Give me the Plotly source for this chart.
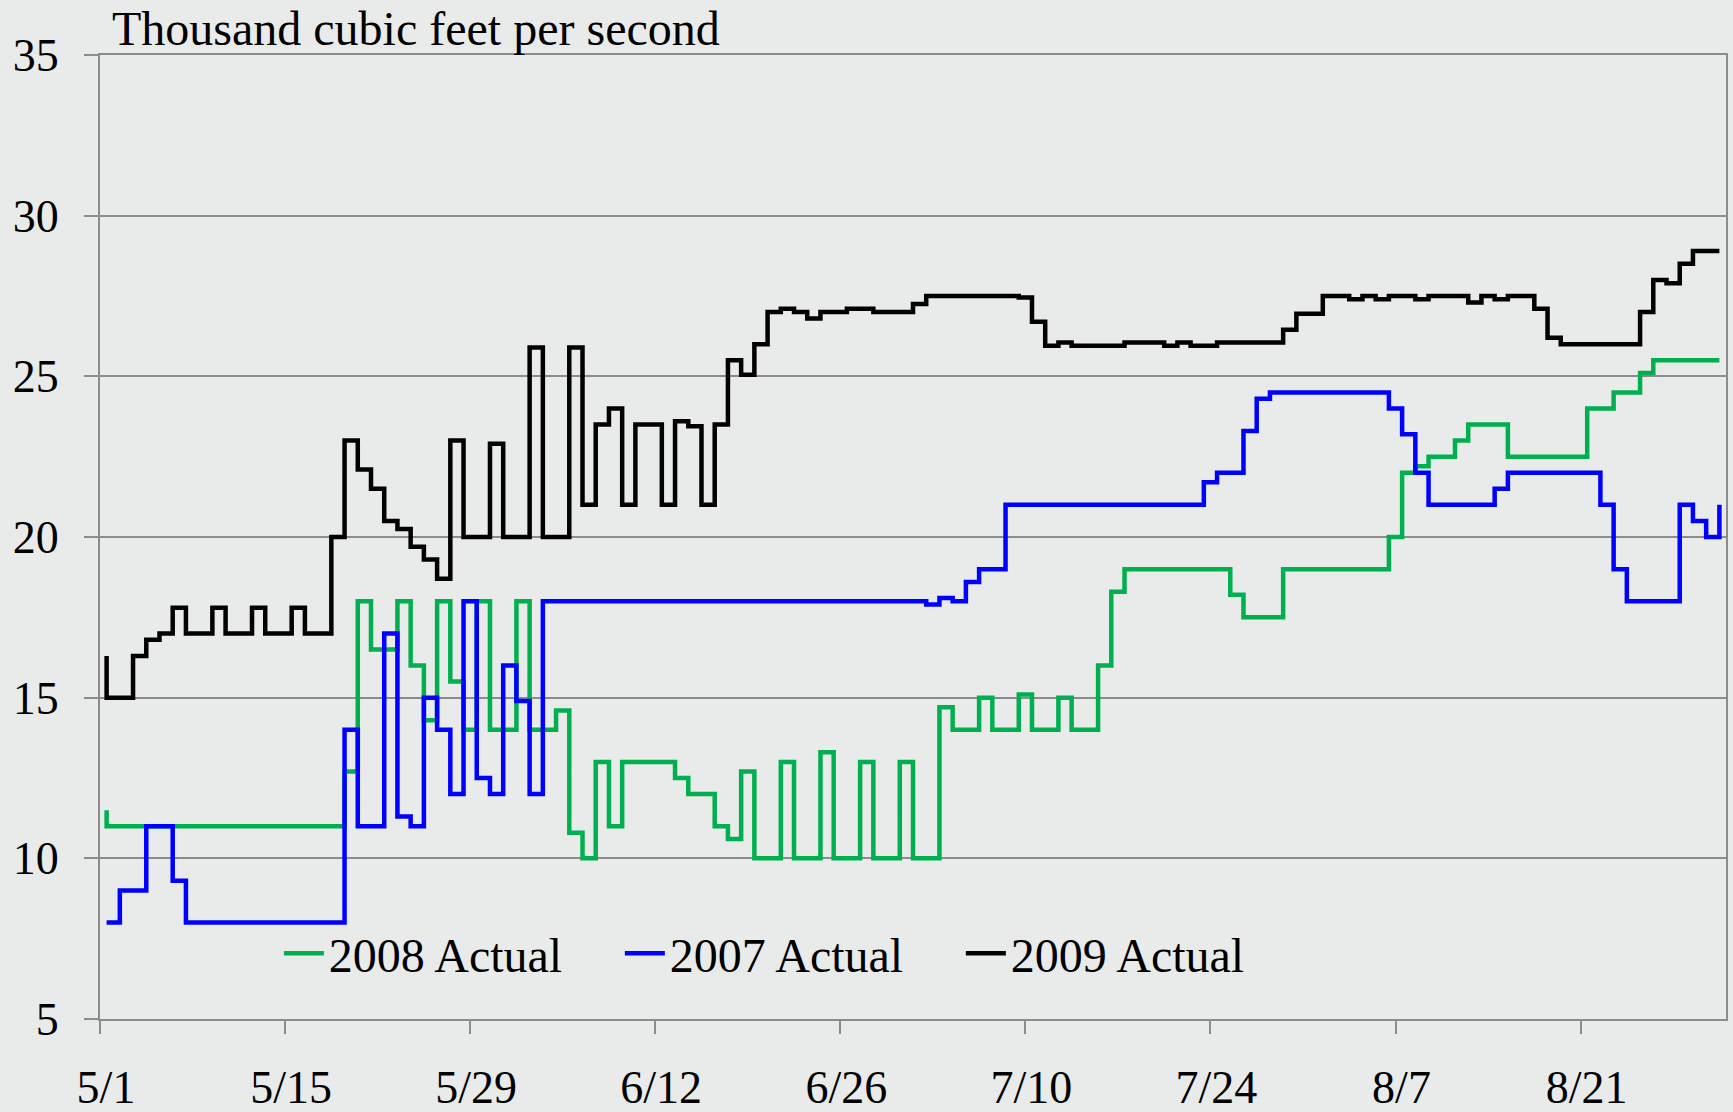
import pandas as pd
import plotly.graph_objects as go

# Day offsets from May 1 at which each new daily value begins, and the values (thousand cfs)
green_day = [0, 0, 18, 19, 20, 22, 23, 24, 25, 26, 27, 28, 29, 31, 32, 34, 35, 36, 37, 38,
             39, 43, 44, 46, 47, 48, 49, 51, 52, 54, 55, 57, 58, 60, 61, 63, 64, 66, 67, 69,
             70, 72, 73, 75, 76, 77, 85, 86, 89, 97, 98, 99, 100, 102, 103, 106, 112, 114,
             116, 117, 122]
green_val = [11.5, 11.0, 12.7, 18.0, 16.5, 18.0, 16.0, 14.3, 18.0, 15.5, 14.0, 18.0, 14.0,
             18.0, 14.0, 14.6, 10.8, 10.0, 13.0, 11.0, 13.0, 12.5, 12.0, 11.0, 10.6, 12.7,
             10.0, 13.0, 10.0, 13.3, 10.0, 13.0, 10.0, 13.0, 10.0, 14.7, 14.0, 15.0, 14.0,
             15.1, 14.0, 15.0, 14.0, 16.0, 18.3, 19.0, 18.2, 17.5, 19.0, 20.0, 22.0, 22.2,
             22.5, 23.0, 23.5, 22.5, 24.0, 24.5, 25.1, 25.5, 25.5]

blue_day = [0, 1, 3, 5, 6, 18, 19, 21, 22, 23, 24, 25, 26, 27, 28, 29, 30, 31, 32, 33, 62,
            63, 64, 65, 66, 68, 83, 84, 86, 87, 88, 97, 98, 99, 100, 105, 106, 113, 114,
            115, 119, 120, 121, 122]
blue_val = [8.0, 9.0, 11.0, 9.3, 8.0, 14.0, 11.0, 17.0, 11.3, 11.0, 15.0, 14.0, 12.0, 18.0,
            12.5, 12.0, 16.0, 14.9, 12.0, 18.0, 17.9, 18.1, 18.0, 18.6, 19.0, 21.0, 21.7,
            22.0, 23.3, 24.3, 24.5, 24.0, 23.2, 22.0, 21.0, 21.5, 22.0, 21.0, 19.0, 18.0,
            21.0, 20.5, 20.0, 21.0]

black_day = [0, 0, 2, 3, 4, 5, 6, 8, 9, 11, 12, 14, 15, 17, 18, 19, 20, 21, 22, 23, 24, 25,
             26, 27, 29, 30, 32, 33, 35, 36, 37, 38, 39, 40, 42, 43, 44, 45, 46, 47, 48, 49,
             50, 51, 52, 53, 54, 56, 58, 61, 62, 69, 70, 71, 72, 73, 77, 80, 81, 82, 84, 89,
             90, 92, 94, 95, 96, 97, 99, 100, 103, 104, 105, 106, 108, 109, 110, 116, 117,
             118, 119, 120, 122]
black_val = [16.3, 15.0, 16.3, 16.8, 17.0, 17.8, 17.0, 17.8, 17.0, 17.8, 17.0, 17.8, 17.0,
             20.0, 23.0, 22.1, 21.5, 20.5, 20.25, 19.7, 19.3, 18.7, 23.0, 20.0, 22.9, 20.0,
             25.9, 20.0, 25.9, 21.0, 23.5, 24.0, 21.0, 23.5, 21.0, 23.6, 23.45, 21.0, 23.5,
             25.5, 25.05, 26.0, 27.0, 27.1, 27.0, 26.8, 27.0, 27.1, 27.0, 27.25, 27.5, 27.45,
             26.7, 25.95, 26.05, 25.95, 26.05, 25.95, 26.05, 25.95, 26.05, 26.45, 26.95,
             27.5, 27.4, 27.5, 27.4, 27.5, 27.4, 27.5, 27.3, 27.5, 27.4, 27.5, 27.1, 26.2,
             26.0, 27.0, 28.0, 27.9, 28.5, 28.9, 28.9]

tick_labels = ["5/1", "5/15", "5/29", "6/12", "6/26", "7/10", "7/24", "8/7", "8/21"]
y_ticks = [5, 10, 15, 20, 25, 30, 35]

YEAR = 2009
base = pd.Timestamp(f"{YEAR}-05-01 12:00")


def to_dates(days):
    return [base + pd.Timedelta(days=d) for d in days]


FONT = "Liberation Serif, Times New Roman, serif"
GRID = "#8c8c8c"

fig = go.Figure()
series = [
    ("2008 Actual", green_day, green_val, "#00b050"),
    ("2007 Actual", blue_day, blue_val, "#0000ff"),
    ("2009 Actual", black_day, black_val, "#000000"),
]
for name, days, vals, color in series:
    fig.add_trace(go.Scatter(
        x=to_dates(days), y=vals, name=name, mode="lines",
        line=dict(color=color, width=4.5, shape="hv"),
    ))

tickvals = [pd.Timestamp(f"{YEAR}/{t}") for t in tick_labels]

fig.update_layout(
    width=1733, height=1112,
    margin=dict(l=100, r=7, t=55, b=93),
    paper_bgcolor="#e9ebea",
    plot_bgcolor="#e9ebea",
    font=dict(family=FONT, size=46, color="#000000"),
    showlegend=True,
    legend=dict(
        orientation="h", x=0.110, y=0.068, xanchor="left", yanchor="middle",
        bgcolor="rgba(0,0,0,0)", font=dict(family=FONT, size=48),
        entrywidth=286, entrywidthmode="pixels", itemwidth=40,
    ),
    xaxis=dict(
        type="date", automargin=False,
        range=[pd.Timestamp(f"{YEAR}-05-01"), pd.Timestamp(f"{YEAR}-09-01")],
        tickvals=tickvals, ticktext=tick_labels,
        showgrid=False, zeroline=False,
        showline=True, linecolor=GRID, linewidth=2, mirror=True,
        ticks="outside", ticklen=13, tickwidth=1.5, tickcolor=GRID,
        ticklabelstandoff=14, ticklabelshift=6,
        tickfont=dict(family=FONT, size=46),
    ),
    yaxis=dict(
        range=[5, 35], tickvals=y_ticks, automargin=False,
        showgrid=True, gridcolor=GRID, gridwidth=1.5, zeroline=False,
        showline=True, linecolor=GRID, linewidth=2, mirror=True,
        ticks="outside", ticklen=14, tickwidth=1.5, tickcolor=GRID,
        ticklabelstandoff=16,
        tickfont=dict(family=FONT, size=46),
    ),
)

fig.add_annotation(
    text="Thousand cubic feet per second",
    xref="paper", yref="paper", x=0.006, y=1.028,
    xanchor="left", yanchor="middle", showarrow=False,
    font=dict(family=FONT, size=48, color="#000000"),
)

fig.write_html(
    "out.html",
    config={"displayModeBar": False},
    post_script="document.body.style.margin='0px';document.body.style.overflow='hidden';",
)
